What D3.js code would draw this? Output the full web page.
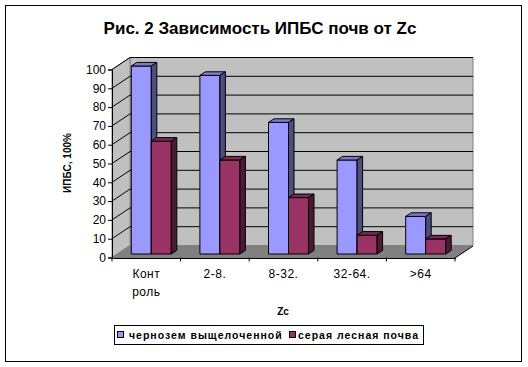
<!DOCTYPE html>
<html><head><meta charset="utf-8">
<script src="https://cdn.jsdelivr.net/npm/d3@7"></script>
<style>body{margin:0;background:#fff}svg{display:block;font-family:Arial,"Liberation Sans",sans-serif}</style>
</head><body>
<svg id="c" width="528" height="367"></svg>
<script>
const categories = ["Конт\nроль", "2-8.", "8-32.", "32-64.", ">64"];
const seriesNames = ["чернозем выщелоченной", "серая лесная почва"];
const chernozem = [100, 95, 70, 50, 20];
const grey = [60, 50, 30, 10, 8];
const yTicks = [0,10,20,30,40,50,60,70,80,90,100];
const title = "Рис. 2 Зависимость ИПБС почв от Zc";
const yTitle = "ИПБС, 100%";
const xTitle = "Zc";

const colors = [{front:"#9999FF", top:"#7A7ACC", side:"#4D4D80"},
                {front:"#993366", top:"#7A2952", side:"#4D1A33"}];

const svg = d3.select("#c");
svg.append("rect").attr("x",5.5).attr("y",5.5).attr("width",516).attr("height",356)
  .attr("fill","#fff").attr("stroke","#000").attr("stroke-width",1);

svg.append("text").attr("x",260).attr("y",34).attr("text-anchor","middle")
  .attr("font-weight","bold").attr("font-size",17).text(title);

const x0 = 112, x1 = 455;
const DX = 18, DY = -12;
const y = d3.scaleLinear().domain([0,100]).range([257.5, 69.5]);
const xb = d3.scaleBand().domain(categories).range([x0,x1]).paddingInner(0).paddingOuter(0);
const xs = d3.scaleBand().domain([0,1]).range([0, xb.bandwidth()]).paddingOuter(0.715).paddingInner(0);

// walls
const g = svg.append("g");
g.append("path").attr("d",`M${x0+DX},${y(100)+DY}L${x1+DX},${y(100)+DY}L${x1+DX},${y(0)+DY}L${x0+DX},${y(0)+DY}Z`)
  .attr("fill","#C0C0C0").attr("stroke","#808080");
g.append("path").attr("d",`M${x0},${y(100)}L${x0+DX},${y(100)+DY}L${x0+DX},${y(0)+DY}L${x0},${y(0)}Z`)
  .attr("fill","#C0C0C0").attr("stroke","#808080");
g.append("path").attr("d",`M${x0},${y(0)}L${x1},${y(0)}L${x1+DX},${y(0)+DY}L${x0+DX},${y(0)+DY}Z`)
  .attr("fill","#808080").attr("stroke","#808080");
yTicks.filter(v=>v>0).forEach(v=>{
  g.append("path").attr("d",`M${x0},${y(v)}L${x0+DX},${y(v)+DY}L${x1+DX},${y(v)+DY}`)
   .attr("fill","none").attr("stroke","#000").attr("stroke-width",1);
});
g.append("line").attr("x1",x1).attr("y1",y(0)+0.5).attr("x2",x1+DX).attr("y2",y(0)+DY+0.5).attr("stroke","#000");

// bars
const fx = 5, fy = -3.5;
const bx = 5.5, by = -3.6;
const data = [chernozem, grey];
categories.forEach((c,i)=>{
  [0,1].forEach(s=>{
    const v = data[s][i];
    const xl = xb(c) + xs(s) + fx, xr = xl + xs.bandwidth();
    const yt = y(v) + fy, ybt = y(0) + fy;
    const col = colors[s];
    const bg = svg.append("g").attr("stroke","#000").attr("stroke-width",1).attr("stroke-linejoin","round");
    bg.append("path").attr("d",`M${xl},${ybt}L${xr},${ybt}L${xr},${yt}L${xl},${yt}Z`).attr("fill",col.front);
    bg.append("path").attr("d",`M${xl},${yt}L${xl+bx},${yt+by}L${xr+bx},${yt+by}L${xr},${yt}Z`).attr("fill",col.top);
    bg.append("path").attr("d",`M${xr},${yt}L${xr+bx},${yt+by}L${xr+bx},${ybt+by}L${xr},${ybt}Z`).attr("fill",col.side);
  });
});

// y axis
const ya = svg.append("g").attr("transform",`translate(${x0},0)`)
  .call(d3.axisLeft(y).tickValues(yTicks).tickSize(4).tickPadding(2));
ya.select(".domain").attr("stroke","#000");
ya.selectAll("line").attr("stroke","#000");
ya.selectAll("text").attr("font-size",12).attr("font-family","Arial, 'Liberation Sans', sans-serif").attr("fill","#000");

// x axis
const xa = svg.append("g").attr("transform",`translate(0,${y(0)+0.5})`)
  .call(d3.axisBottom(xb).tickSize(0).tickFormat(""));
xa.select(".domain").attr("stroke","#000");
const bounds = [...categories.map(c=>xb(c)), x1];
bounds.forEach(b=>{
  svg.append("line").attr("x1",b).attr("x2",b).attr("y1",y(0)).attr("y2",y(0)+4).attr("stroke","#000");
});
categories.forEach(c=>{
  const lines = c.split("\n");
  lines.forEach((t,k)=>{
    svg.append("text").attr("x",xb(c)+xb.bandwidth()/2).attr("y",278+k*17.5)
      .attr("text-anchor","middle").attr("font-size",12).attr("letter-spacing",0.5).text(t);
  });
});

svg.append("text").attr("x",283).attr("y",315).attr("text-anchor","middle")
  .attr("font-weight","bold").attr("font-size",10).text(xTitle);

svg.append("text").attr("transform","translate(71,163) rotate(-90)").attr("text-anchor","middle")
  .attr("font-weight","bold").attr("font-size",10).text(yTitle);

// legend
const lg = svg.append("g");
lg.append("rect").attr("x",114.5).attr("y",325.5).attr("width",309).attr("height",19)
  .attr("fill","#fff").attr("stroke","#000");
const legX = [117, 289];
const legT = [129, 298];
seriesNames.forEach((n,i)=>{
  lg.append("rect").attr("x",legX[i]+0.5).attr("y",331.5).attr("width",6).attr("height",6)
    .attr("fill",colors[i].front).attr("stroke","#000");
  lg.append("text").attr("x",legT[i]).attr("y",339).attr("font-size",10.5)
    .attr("font-weight","bold").attr("letter-spacing",1).text(n);
});
</script>
</body></html>
